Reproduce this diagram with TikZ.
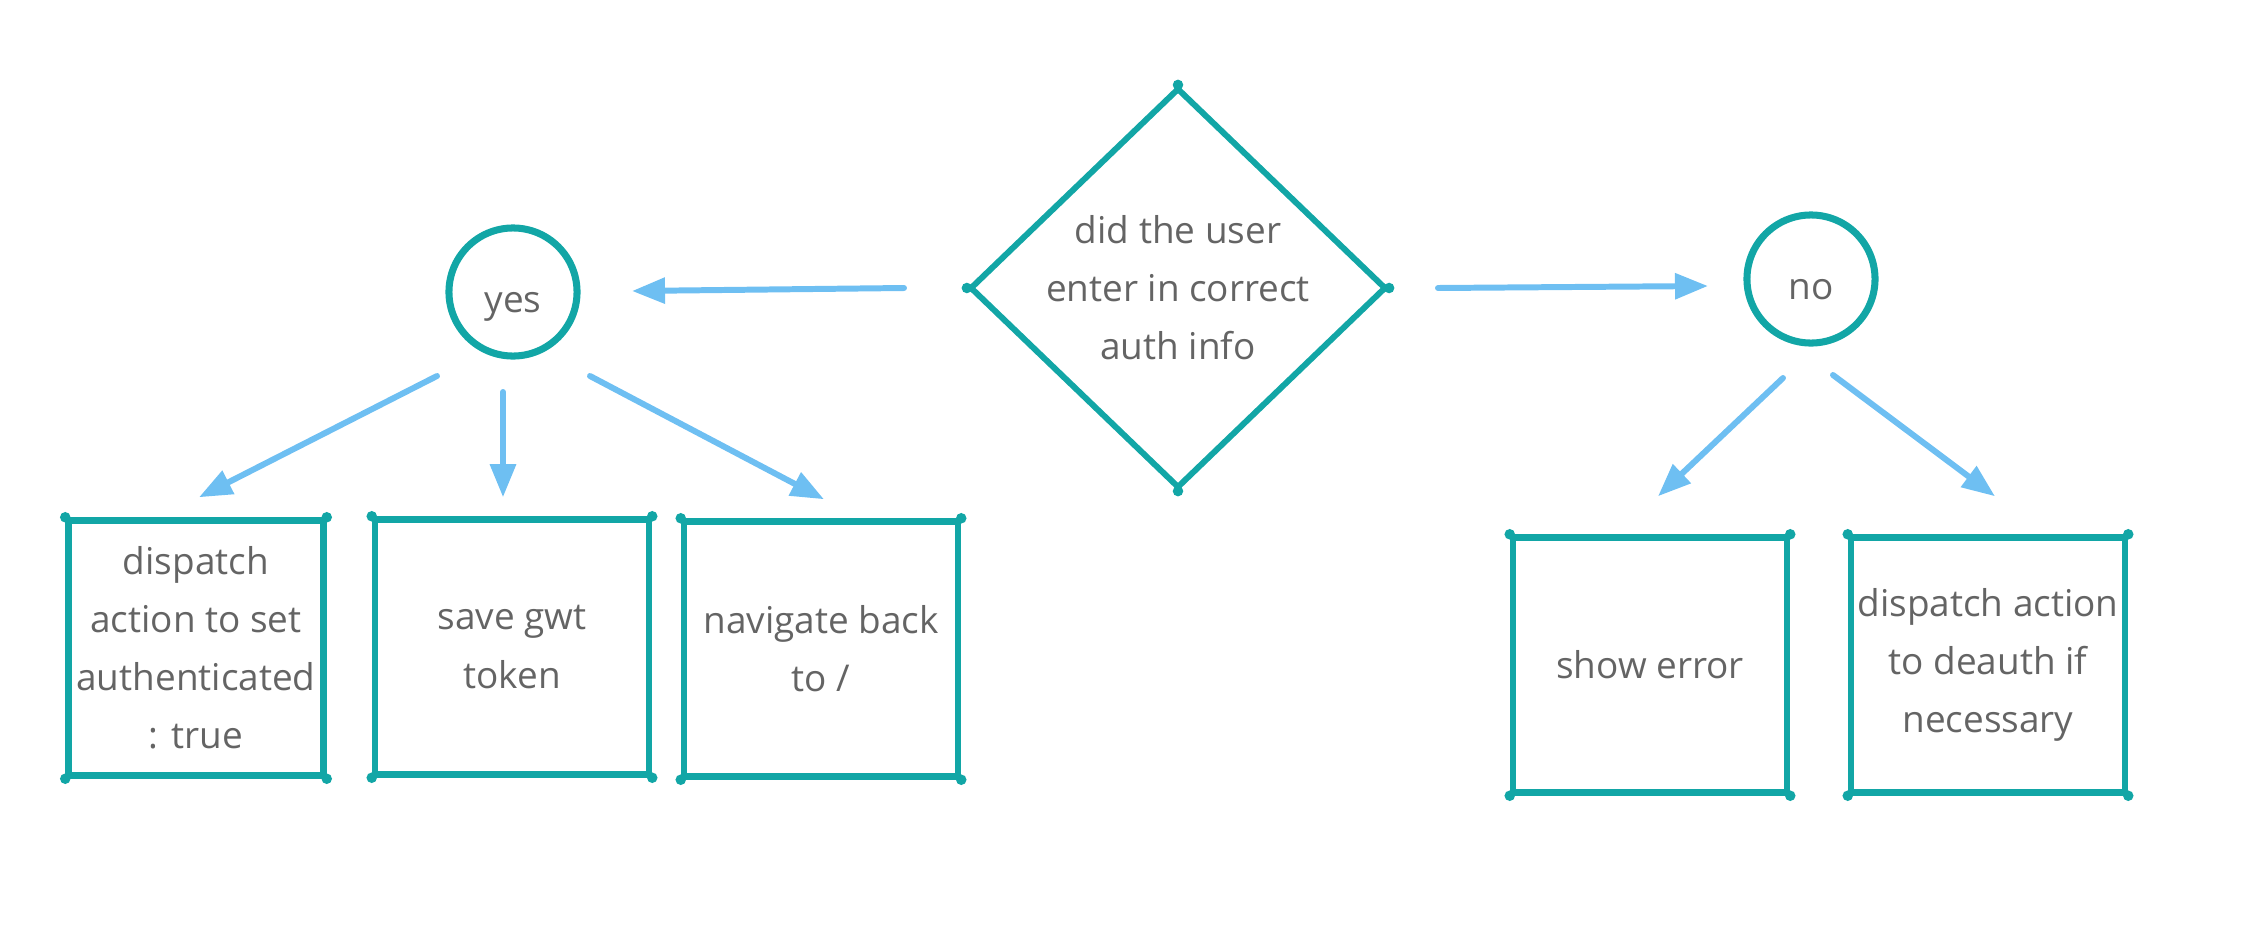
\documentclass[tikz,border=0pt]{standalone}
\usepackage{fontspec}
\setmainfont{Open Sans}
\usepackage{tikz}
\definecolor{boxteal}{RGB}{18, 166, 166}
\definecolor{arrowblue}{RGB}{110, 191, 242}
\definecolor{inkgray}{RGB}{100, 100, 100}
\usetikzlibrary{shapes.geometric, arrows.meta, calc}

\begin{document}
\begin{tikzpicture}[
    x=0.01cm, y=-0.01cm,
    label text/.style={font=\fontsize{10.5}{16.5}\selectfont, text=inkgray, align=center},
    decision/.style={diamond, draw=boxteal, line width=1.7pt, minimum width=4.16cm, minimum height=4cm, inner sep=-8pt, label text},
    answer/.style={circle, draw=boxteal, line width=2pt, minimum size=1.28cm, inner sep=0pt, text height=2.2ex, text depth=0pt, label text},
    task/.style={rectangle, draw=boxteal, line width=1.8pt, minimum width=2.74cm, minimum height=2.55cm, inner sep=0pt, label text},
    arrow/.style={-{Triangle[length=0.33cm, width=0.25cm]}, arrowblue, line width=1.7pt, line cap=round}
]
    \useasboundingbox (0,0) rectangle (2268,936);

    \node[decision] (check) at (1178,288) {did the user\\enter in correct\\auth info};
    \node[answer] (yes) at (513,292) {yes};
    \node[answer] (no) at (1811,279) {no};

    \node[task, minimum width=2.55cm] (flag) at (196,648) {dispatch\\action to set\\authenticated\\: true};
    \node[task] (token) at (512,647) {save gwt\\token};
    \node[task] (back) at (821,649) {navigate back\\to /};
    \node[task] (error) at (1650,665) {show error};
    \node[task] (deauth) at (1988,665) {dispatch action\\to deauth if\\necessary};

    % corner dots
    \foreach \n in {flag, token, back, error, deauth}
        \foreach \a in {north west, north east, south east, south west}
            \fill[boxteal] (\n.\a) circle (1.5pt);
    \foreach \a in {north, east, south, west}
        \fill[boxteal] (check.\a) circle (1.5pt);

    \draw[arrow] ($(check)+(-274,0)$) -- ($(yes)+(119,-1)$);
    \draw[arrow] ($(check)+(260,0)$) -- ($(no)+(-103,7)$);

    \draw[arrow] ($(yes)+(-76,84)$) -- ($(flag.north)+(3,-20)$);
    \draw[arrow] ($(yes)+(-10,100)$) -- ($(token.north)+(-9,-19)$);
    \draw[arrow] ($(yes)+(77,84)$) -- ($(back.north)+(3,-19)$);

    \draw[arrow] ($(no)+(-28,99)$) -- ($(error.north)+(8,-38)$);
    \draw[arrow] ($(no)+(22,96)$) -- ($(deauth.north)+(7,-38)$);
\end{tikzpicture}
\end{document}
